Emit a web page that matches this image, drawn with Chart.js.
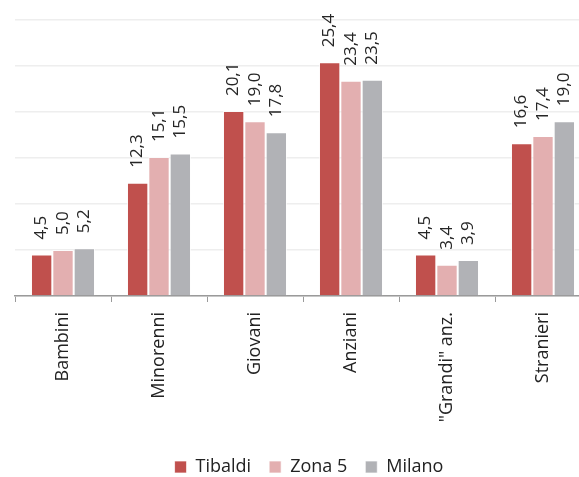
<!DOCTYPE html>
<html>
<head>
<meta charset="utf-8">
<script src="https://cdn.jsdelivr.net/npm/chart.js@4"></script>
<style>
    html, body { margin: 0; padding: 0; background: #fff; overflow: hidden; }
    #wrap { width: 579px; height: 477px; overflow: hidden; }
</style>
</head>
<body>
<div id="wrap"><canvas id="grafico" width="618" height="486"></canvas></div>
<script>
const categorie = ['Bambini', 'Minorenni', 'Giovani', 'Anziani', '"Grandi" anz.', 'Stranieri'];
const tibaldi = [4.5, 12.3, 20.1, 25.4, 4.5, 16.6];
const zona5 = [5.0, 15.1, 19.0, 23.4, 3.4, 17.4];
const milano = [5.2, 15.5, 17.8, 23.5, 3.9, 19.0];
const yTicks = [0, 5, 10, 15, 20, 25, 30];

const FONT = "'Open Sans', sans-serif";

// etichette verticali sopra le barre
const etichettePlugin = {
    id: 'etichettePlugin',
    afterDatasetsDraw(chart) {
        const ctx = chart.ctx;
        ctx.save();
        ctx.font = '17px ' + FONT;
        ctx.fillStyle = '#262626';
        ctx.textAlign = 'left';
        ctx.textBaseline = 'middle';
        chart.data.datasets.forEach((ds, i) => {
            const meta = chart.getDatasetMeta(i);
            meta.data.forEach((bar, j) => {
                const testo = ds.data[j].toFixed(1).replace('.', ',');
                ctx.save();
                ctx.translate(bar.x, bar.y - 15);
                ctx.rotate(-Math.PI / 2);
                ctx.fillText(testo, 0, 0);
                ctx.restore();
            });
        });
        ctx.restore();
    }
};

const ctx = document.getElementById('grafico').getContext('2d');

new Chart(ctx, {
    type: 'bar',
    data: {
        labels: categorie,
        datasets: [
            { label: 'Tibaldi', data: tibaldi, backgroundColor: '#C0504D' },
            { label: 'Zona 5', data: zona5, backgroundColor: '#E3AFB0' },
            { label: 'Milano', data: milano, backgroundColor: '#B1B2B6' }
        ].map(d => Object.assign(d, {
            borderColor: 'rgba(255,255,255,0.7)',
            borderWidth: 1,
            categoryPercentage: 0.667,
            barPercentage: 1
        }))
    },
    options: {
        responsive: false,
        animation: false,
        devicePixelRatio: 1,
        layout: { padding: { top: 20, left: 15, right: 15, bottom: 0 } },
        plugins: {
            legend: {
                position: 'bottom',
                labels: {
                    font: { family: FONT, size: 18 },
                    color: '#222',
                    boxWidth: 12,
                    boxHeight: 12,
                    padding: 18
                }
            },
            tooltip: { enabled: false }
        },
        scales: {
            x: {
                grid: {
                    drawOnChartArea: false,
                    tickLength: 6,
                    color: '#9a9a9a'
                },
                border: { color: '#9a9a9a', width: 1.5 },
                ticks: {
                    font: { family: FONT, size: 18 },
                    color: '#222',
                    minRotation: 90,
                    maxRotation: 90,
                    padding: 10
                },
                afterFit(scale) { scale.height = 144; }
            },
            y: {
                min: 0,
                max: 30,
                afterBuildTicks(scale) {
                    scale.ticks = yTicks.map(v => ({ value: v }));
                },
                ticks: { display: false },
                grid: { color: '#eeeeee', lineWidth: 1.5, drawTicks: false },
                border: { display: false }
            },
            // asse vuoto a destra, solo per spostare la legenda
            yVuoto: {
                position: 'right',
                min: 0,
                max: 30,
                ticks: { display: false },
                grid: { display: false },
                border: { display: false },
                afterFit(scale) { scale.width = 12; }
            }
        }
    },
    plugins: [etichettePlugin]
});
</script>
</body>
</html>
